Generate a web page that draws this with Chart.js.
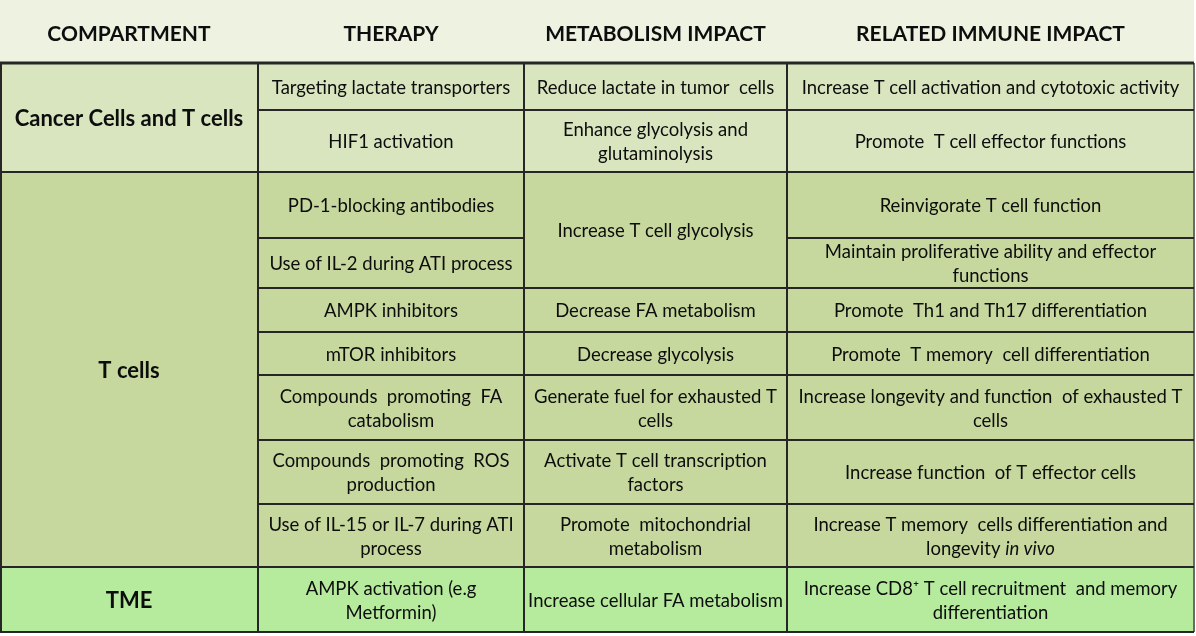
<!DOCTYPE html>
<html>
<head>
<meta charset="utf-8">
<script src="https://cdn.jsdelivr.net/npm/chart.js@4/dist/chart.umd.min.js"></script>
<style>
  html, body { margin: 0; padding: 0; background: #ffffff; }
  #wrap { width: 1196px; height: 636px; }
</style>
</head>
<body>
<div id="wrap"><canvas id="table" width="1196" height="636"></canvas></div>
<script>
// table content
const headers = ['COMPARTMENT', 'THERAPY', 'METABOLISM IMPACT', 'RELATED IMMUNE IMPACT'];

const compartments = ['Cancer Cells and T cells', 'T cells', 'TME'];
const compartmentRows = [2, 7, 1];

const therapies = [
    'Targeting lactate transporters',
    'HIF1 activation',
    'PD-1-blocking antibodies',
    'Use of IL-2 during ATI process',
    'AMPK inhibitors',
    'mTOR inhibitors',
    'Compounds  promoting  FA\ncatabolism',
    'Compounds  promoting  ROS\nproduction',
    'Use of IL-15 or IL-7 during ATI\nprocess',
    'AMPK activation (e.g\nMetformin)'
];

const metabolismImpact = [
    'Reduce lactate in tumor  cells',
    'Enhance glycolysis and\nglutaminolysis',
    'Increase T cell glycolysis',
    'Decrease FA metabolism',
    'Decrease glycolysis',
    'Generate fuel for exhausted T\ncells',
    'Activate T cell transcription\nfactors',
    'Promote  mitochondrial\nmetabolism',
    'Increase cellular FA metabolism'
];
const metabolismRows = [1, 1, 2, 1, 1, 1, 1, 1, 1];

const immuneImpact = [
    'Increase T cell activation and cytotoxic activity',
    'Promote  T cell effector functions',
    'Reinvigorate T cell function',
    'Maintain proliferative ability and effector\nfunctions',
    'Promote  Th1 and Th17 differentiation',
    'Promote  T memory  cell differentiation',
    'Increase longevity and function  of exhausted T\ncells',
    'Increase function  of T effector cells',
    'Increase T memory  cells differentiation and\nlongevity _in vivo_',
    'Increase CD8\u207A T cell recruitment  and memory\ndifferentiation'
];

// layout (grid geometry in canvas units)
const colEdges = [0, 258, 524, 787, 1194];
const headerHeight = 63;
const rowHeights = [47, 62, 66, 50, 44, 43, 65, 64, 63, 65];

const headerColor = '#edf2e1';
const compartmentColors = ['#d9e5bf', '#c6d89d', '#b6eb9e'];
const lineColor = '#262626';
const fontFamily = 'Lato, "Open Sans", sans-serif';
const bodyFont = '18.5px ' + fontFamily;

// row boundaries
const rowEdges = [headerHeight];
rowHeights.forEach(h => rowEdges.push(rowEdges[rowEdges.length - 1] + h));
const tableBottom = rowEdges[rowEdges.length - 1];

function rect(x0, x1, y0, y1) {
    return [{x: x0, y: y0}, {x: x1, y: y0}, {x: x1, y: y1}, {x: x0, y: y1}, {x: x0, y: y0}];
}

const datasets = [];
const cells = [];

function addFill(x0, x1, y0, y1, color) {
    datasets.push({
        data: rect(x0, x1, y0, y1),
        showLine: true,
        fill: 'shape',
        backgroundColor: color,
        borderWidth: 0,
        pointRadius: 0,
        order: 2
    });
}

function addLine(x0, y0, x1, y1, width, color) {
    datasets.push({
        data: [{x: x0, y: y0}, {x: x1, y: y1}],
        showLine: true,
        fill: false,
        borderColor: color || lineColor,
        borderWidth: width || 2,
        pointRadius: 0,
        order: 1
    });
}

// header
addFill(0, colEdges[4], 0, headerHeight, headerColor);
headers.forEach((h, i) => {
    cells.push({text: h, x0: colEdges[i], x1: colEdges[i + 1], y0: 0, y1: headerHeight, font: 'bold 21px ' + fontFamily, dy: 2.5});
});

// compartments: background, name and horizontal separators
let r = 0;
compartments.forEach((name, i) => {
    const y0 = rowEdges[r];
    const y1 = rowEdges[r + compartmentRows[i]];
    addFill(0, colEdges[4], y0, y1, compartmentColors[i]);
    cells.push({text: name, x0: colEdges[0], x1: colEdges[1], y0: y0, y1: y1, font: 'bold 22px ' + fontFamily, dy: 1.5});
    addLine(0, y1, colEdges[4], y1, 2);
    r += compartmentRows[i];
});

// therapy and immune columns, one per row
therapies.forEach((t, i) => {
    cells.push({text: t, x0: colEdges[1], x1: colEdges[2], y0: rowEdges[i], y1: rowEdges[i + 1], font: bodyFont, dy: 1.5});
    cells.push({text: immuneImpact[i], x0: colEdges[3], x1: colEdges[4], y0: rowEdges[i], y1: rowEdges[i + 1], font: bodyFont, dy: 1.5});
    addLine(colEdges[1], rowEdges[i + 1], colEdges[2], rowEdges[i + 1], 2);
    addLine(colEdges[3], rowEdges[i + 1], colEdges[4], rowEdges[i + 1], 2);
});

// metabolism column with merged rows
r = 0;
metabolismImpact.forEach((m, i) => {
    const y0 = rowEdges[r];
    const y1 = rowEdges[r + metabolismRows[i]];
    cells.push({text: m, x0: colEdges[2], x1: colEdges[3], y0: y0, y1: y1, font: bodyFont, dy: 1.5});
    addLine(colEdges[2], y1, colEdges[3], y1, 2);
    r += metabolismRows[i];
});

// header rule and vertical lines
addLine(0, headerHeight, colEdges[4], headerHeight, 3);
colEdges.forEach((x, i) => {
    const xx = i === 0 ? 1 : x;
    addLine(xx, headerHeight, xx, tableBottom, 2, i === 4 ? '#6a6a6a' : lineColor);
});

// draws cell text, centred; text between _ _ is italic
const cellText = {
    id: 'cellText',
    afterDatasetsDraw(chart) {
        const ctx = chart.ctx;
        const xs = chart.scales.x;
        const ys = chart.scales.y;
        ctx.save();
        ctx.fillStyle = '#0d0d0d';
        ctx.textBaseline = 'middle';
        ctx.textAlign = 'left';
        cells.forEach(c => {
            const cx = (xs.getPixelForValue(c.x0) + xs.getPixelForValue(c.x1)) / 2;
            const cy = (ys.getPixelForValue(c.y0) + ys.getPixelForValue(c.y1)) / 2 + (c.dy || 0);
            const lines = c.text.split('\n');
            const lh = 24;
            lines.forEach((line, li) => {
                const ly = cy + (li - (lines.length - 1) / 2) * lh;
                const parts = line.split('_');
                let total = 0;
                parts.forEach((p, pi) => {
                    ctx.font = (pi % 2 ? 'italic ' : '') + c.font;
                    total += ctx.measureText(p).width;
                });
                let px = cx - total / 2;
                parts.forEach((p, pi) => {
                    ctx.font = (pi % 2 ? 'italic ' : '') + c.font;
                    ctx.fillText(p, px, ly);
                    px += ctx.measureText(p).width;
                });
            });
        });
        ctx.restore();
    }
};

new Chart(document.getElementById('table'), {
    type: 'scatter',
    data: { datasets: datasets },
    options: {
        responsive: false,
        animation: false,
        devicePixelRatio: 1,
        layout: { padding: 0 },
        elements: { line: { tension: 0 } },
        plugins: {
            legend: { display: false },
            tooltip: { enabled: false }
        },
        scales: {
            x: { type: 'linear', min: 0, max: 1196, display: false },
            y: { type: 'linear', min: 0, max: 636, reverse: true, display: false }
        }
    },
    plugins: [cellText]
});
</script>
</body>
</html>
